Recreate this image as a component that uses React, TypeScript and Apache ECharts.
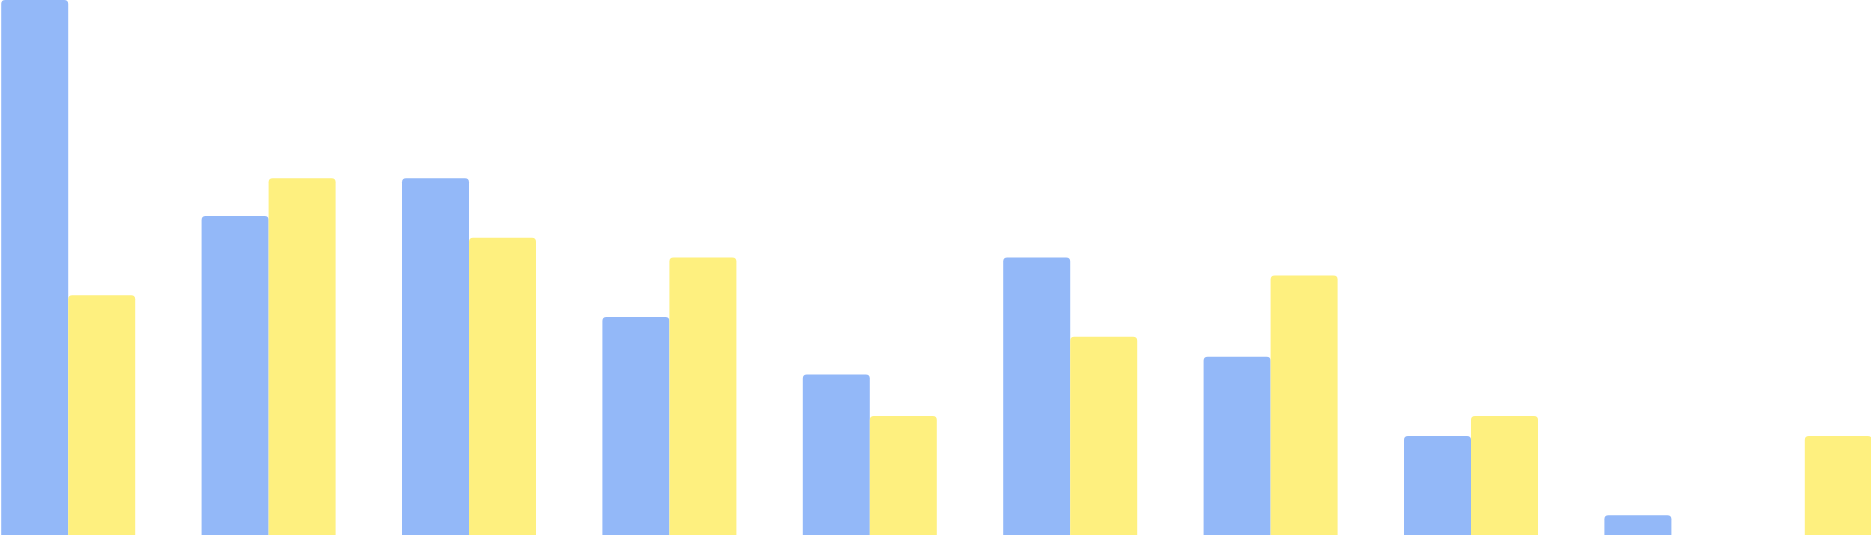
import React, { useEffect, useRef } from "react";
import * as echarts from "echarts";

const categories = ["C1", "C2", "C3", "C4", "C5", "C6", "C7", "C8", "C9", "C10"];
const blueValues: (number | null)[] = [27, 16.1, 18, 11, 8.1, 14, 9, 5, 1, null];
const yellowValues: (number | null)[] = [12.1, 18, 15, 14, 6, 10, 13.1, 6, null, null];
// last group: the visible yellow bar sits in the first slot of the group
const lastGroupLeadYellow = 5;

const BLUE = "#93b8f8";
const YELLOW = "#fef07f";

export default function App() {
  const ref = useRef<HTMLDivElement>(null);
  useEffect(() => {
    if (!ref.current) return;
    document.body.style.overflow = "hidden";
    const chart = echarts.init(ref.current, undefined, { renderer: "svg" });
    const blueData = blueValues.map((v, i) =>
      i === categories.length - 1
        ? { value: lastGroupLeadYellow, itemStyle: { color: YELLOW } }
        : v
    );
    chart.setOption({
      animation: false,
      grid: { left: 0, right: 0, top: 0, bottom: 0, containLabel: false },
      xAxis: { type: "category", data: categories, show: false },
      yAxis: { type: "value", min: 0, max: 27, show: false, splitLine: { show: false } },
      series: [
        {
          type: "bar",
          data: blueData,
          barWidth: 67,
          barGap: "0%",
          itemStyle: { color: BLUE, borderRadius: [4, 4, 0, 0] },
        },
        {
          type: "bar",
          data: yellowValues,
          barWidth: 67,
          barGap: "0%",
          itemStyle: { color: YELLOW, borderRadius: [4, 4, 0, 0] },
        },
      ],
    });
    return () => chart.dispose();
  }, []);
  return (
    <div
      ref={ref}
      style={{ position: "fixed", left: -32.2, top: 0, width: 2004, height: 535, background: "#fff" }}
    />
  );
}
